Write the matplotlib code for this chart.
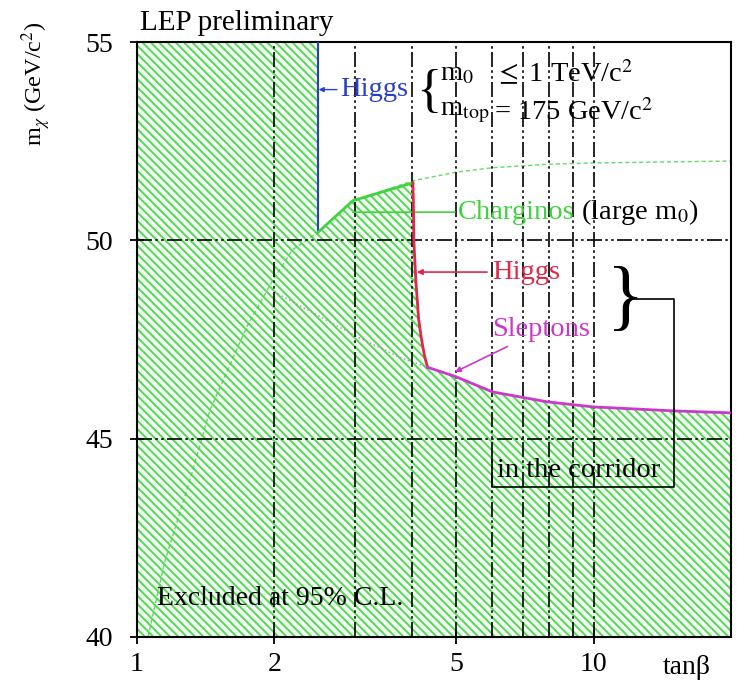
import numpy as np
import matplotlib.pyplot as plt

plt.rcParams['font.family'] = ['Liberation Serif', 'DejaVu Serif']
plt.rcParams['mathtext.fontset'] = 'stix'
plt.rcParams['hatch.linewidth'] = 1.4

# Excluded region boundary: Higgs (blue), charginos, Higgs (red), sleptons
higgs_blue_x = [2.49, 2.49]
higgs_blue_y = [55.0, 50.2]
chargino_x = [2.49, 2.97, 4.02]
chargino_y = [50.2, 51.0, 51.45]
higgs_red_x = [4.02, 4.03, 4.04, 4.08, 4.14, 4.2, 4.27, 4.33]
higgs_red_y = [51.45, 51.0, 50.0, 49.0, 48.0, 47.5, 47.05, 46.8]
slepton_x = [4.33, 5.0, 6.0, 7.9, 10.0, 15.0, 20.0]
slepton_y = [46.8, 46.56, 46.18, 45.93, 45.8, 45.7, 45.65]

# dotted continuations
slepton_dot_x = [2.0, 3.0, 3.76, 4.33]
slepton_dot_y = [48.7, 47.6, 47.05, 46.8]
charg_large_x = [1.057, 1.15, 1.306, 1.445, 1.74, 1.985, 2.19, 2.49, 2.97, 4.02, 5.0, 6.0, 8.0, 10.0, 20.0]
charg_large_y = [40.0, 41.9, 43.96, 45.72, 47.82, 49.0, 49.76, 50.2, 51.0, 51.5, 51.72, 51.83, 51.92, 51.95, 52.0]

# corridor bracket
corridor_x = [11.99, 15.04, 15.04, 5.98, 5.98]
corridor_y = [48.52, 48.52, 43.78, 43.78, 44.51]

green = '#3fd43f'
blue = '#2a3fc8'
red = '#e0284a'
magenta = '#cc38cc'

fig = plt.figure(figsize=(7.37, 6.86), dpi=100)
ax = fig.add_axes([137/737, 1-637/686, 594/737, 595/686])

# excluded (hatched) region
bx = [1.0] + higgs_blue_x + chargino_x[1:] + higgs_red_x[1:] + slepton_x[1:]
by = [55.0] + higgs_blue_y + chargino_y[1:] + higgs_red_y[1:] + slepton_y[1:]
ax.fill_between(bx, 40, by, facecolor='#f2fbf2', edgecolor='#55d855', hatch='\\\\\\\\',
                linewidth=0, zorder=1)

ax.plot(charg_large_x, charg_large_y, color=green, lw=1.0, ls=(0, (3, 2)), alpha=0.8, zorder=2)
ax.plot(slepton_dot_x, slepton_dot_y, color='#c080c0', lw=1.0, ls=(0, (1, 2)), zorder=2)

ax.plot(higgs_blue_x, higgs_blue_y, color=blue, lw=1.5, zorder=4)
ax.plot(chargino_x, chargino_y, color=green, lw=2, zorder=4)
ax.plot(higgs_red_x, higgs_red_y, color=red, lw=2, zorder=4)
ax.plot(slepton_x, slepton_y, color=magenta, lw=2, zorder=4)

# grid
grid_ls = (0, (9, 2, 1.5, 2, 1.5, 2))
for gx in [2, 3, 4, 5, 6, 7, 8, 9, 10]:
    ax.axvline(gx, color='black', lw=1.2, ls=grid_ls, zorder=3)
for gy in [45, 50]:
    ax.axhline(gy, color='black', lw=1.2, ls=grid_ls, zorder=3)

ax.set_xscale('log')
ax.set_xlim(1, 20)
ax.set_ylim(40, 55)
ax.set_xticks([1, 2, 5, 10])
ax.set_xticklabels(['1', '2', '5', '10'])
ax.minorticks_off()
ax.set_yticks([40, 45, 50, 55])
ax.tick_params(direction='inout', length=10, width=1.3, labelsize=20)
ax.tick_params(axis='y', pad=12)
ax.tick_params(axis='x', pad=6)
for s in ax.spines.values():
    s.set_linewidth(1.5)

ax.text(0.966, -0.03, 'tanβ', transform=ax.transAxes, ha='right', va='top', fontsize=20)
fig.text(140/737, 1-30/686, 'LEP preliminary', fontsize=21, va='baseline')
fig.text(36/737, 1-84/686, r'm$_\chi$ (GeV/c$^2$)', rotation=90, ha='center', va='center', fontsize=17.5)

fs = 20.5
# blue Higgs
ax.annotate('Higgs', xy=(2.5, 53.8), xytext=(2.78, 53.8), color=blue, fontsize=fs, va='center',
            arrowprops=dict(arrowstyle='-|>', color=blue, lw=1, mutation_scale=7, shrinkA=0, shrinkB=0))
ax.text(4.36, 53.72, '{', fontsize=38, va='center', ha='center')
ax.text(4.62, 54.2, r'm$_0$', fontsize=fs, va='center')
ax.text(6.04, 54.2, r'$\leq$ 1 TeV/c$^2$', fontsize=fs, va='center')
ax.text(4.62, 53.22, r'm$_{\rm top}$', fontsize=fs, va='center')
ax.text(6.04, 53.22, r'= 175 GeV/c$^2$', fontsize=fs, va='center')

# charginos
t1 = ax.annotate('Charginos', xy=(2.97, 50.71), xytext=(5.04, 50.71), color=green, fontsize=fs, va='center',
                 arrowprops=dict(arrowstyle='-', color=green, lw=1.2, shrinkA=0, shrinkB=0))
ax.annotate(' (large m$_0$)', xy=(1, 0.5), xycoords=t1, fontsize=fs, va='center', ha='left')

# red Higgs
ax.annotate('Higgs', xy=(4.1, 49.2), xytext=(6.01, 49.2), color=red, fontsize=fs, va='center',
            arrowprops=dict(arrowstyle='-|>', color=red, lw=1.2, mutation_scale=8, shrinkA=2, shrinkB=0))
# sleptons
ax.annotate('Sleptons', xy=(4.97, 46.68), xytext=(6.01, 47.74), color=magenta, fontsize=fs, va='center',
            arrowprops=dict(arrowstyle='-|>', color=magenta, lw=1.2, mutation_scale=8, shrinkA=2, shrinkB=0))

ax.text(11.75, 48.45, '}', fontsize=56, va='center', ha='center')
ax.plot(corridor_x, corridor_y, color='black', lw=1.2, zorder=5)
ax.text(6.13, 44.21, 'in the corridor', fontsize=fs, va='center', zorder=6)
ax.text(1.106, 40.98, 'Excluded at 95% C.L.', fontsize=20, va='center', zorder=6)

fig.savefig('out.png', dpi=100)
